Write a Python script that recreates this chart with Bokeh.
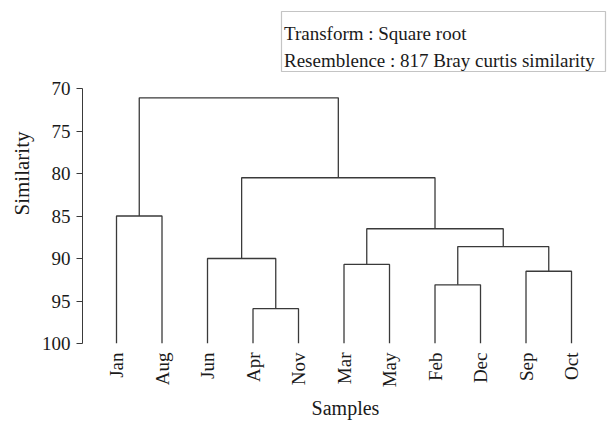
import math
from bokeh.plotting import figure
from bokeh.models import Range1d, FixedTicker, Label, BoxAnnotation
from bokeh.embed import file_html
from bokeh.resources import INLINE

# ---- data ----
leaves = ["Jan", "Aug", "Jun", "Apr", "Nov", "Mar", "May", "Feb", "Dec", "Sep", "Oct"]
# merges: cluster ids 0..10 are leaves, new cluster ids start at 11
merge_left = [0, 3, 2, 5, 7, 9, 15, 14, 13, 11]
merge_right = [1, 4, 12, 6, 8, 10, 16, 17, 18, 19]
merge_height = [85.0, 95.9, 90.0, 90.7, 93.1, 91.5, 88.6, 86.5, 80.5, 71.1]
y_ticks = [70, 75, 80, 85, 90, 95, 100]
baseline = 100
legend_lines = ["Transform : Square root", "Resemblence : 817 Bray curtis similarity"]

FONT = "Liberation Serif"
LINE = "#3a3a3a"
TXT = "#1a1a1a"

p = figure(width=610, height=423, output_backend="svg", toolbar_location=None,
           x_range=Range1d(0.2527, 11.813), y_range=Range1d(100, 60),
           min_border_left=82, min_border_right=2, min_border_top=3, min_border_bottom=80)
p.outline_line_color = None
p.grid.visible = False
p.background_fill_color = "white"
p.border_fill_color = "white"

# compute dendrogram geometry
pos = {i: i + 1 for i in range(len(leaves))}
hgt = {i: baseline for i in range(len(leaves))}
xs, ys = [], []
for k, (a, b, h) in enumerate(zip(merge_left, merge_right, merge_height)):
    cid = len(leaves) + k
    xa, xb = pos[a], pos[b]
    xs.append([xa, xa, xb, xb])
    ys.append([hgt[a], h, h, hgt[b]])
    pos[cid] = (xa + xb) / 2
    hgt[cid] = h

p.multi_line(xs, ys, line_color=LINE, line_width=1.3)

# y axis
ya = p.yaxis[0]
ya.ticker = FixedTicker(ticks=y_ticks)
ya.bounds = (min(y_ticks), max(y_ticks))
ya.minor_tick_line_color = None
ya.major_tick_in = 0
ya.major_tick_out = 6
ya.major_label_standoff = 6
ya.axis_line_color = LINE
ya.major_tick_line_color = LINE
ya.major_label_text_font = FONT
ya.major_label_text_font_size = "19px"
ya.major_label_text_color = TXT
ya.axis_label = "Similarity"
ya.axis_label_text_font = FONT
ya.axis_label_text_font_style = "normal"
ya.axis_label_text_font_size = "21px"
ya.axis_label_text_color = TXT
ya.axis_label_standoff = 5

# x axis
xa_ = p.xaxis[0]
xa_.ticker = FixedTicker(ticks=list(range(1, len(leaves) + 1)))
xa_.major_label_overrides = {i + 1: lab for i, lab in enumerate(leaves)}
xa_.major_label_orientation = math.pi / 2
xa_.axis_line_color = None
xa_.major_tick_line_color = None
xa_.minor_tick_line_color = None
xa_.major_tick_out = 0
xa_.major_tick_in = 0
xa_.major_label_standoff = 9
xa_.major_label_text_font = FONT
xa_.major_label_text_font_size = "19px"
xa_.major_label_text_color = TXT
xa_.axis_label = "Samples"
xa_.axis_label_text_font = FONT
xa_.axis_label_text_font_style = "normal"
xa_.axis_label_text_font_size = "20px"
xa_.axis_label_text_color = TXT
xa_.axis_label_standoff = 7

# info box
box = BoxAnnotation(left=4.626, right=11.747, top=60.94, bottom=68.0,
                    fill_color=None, line_color=LINE, line_width=1.2)
p.add_layout(box)
for txt, yv in zip(legend_lines, [63.53, 66.71]):
    p.add_layout(Label(x=4.681, y=yv, text=txt, text_font=FONT, text_font_size="19px",
                       text_color=TXT, text_align="left", text_baseline="alphabetic"))

open("out.html", "w").write(file_html(p, INLINE))
